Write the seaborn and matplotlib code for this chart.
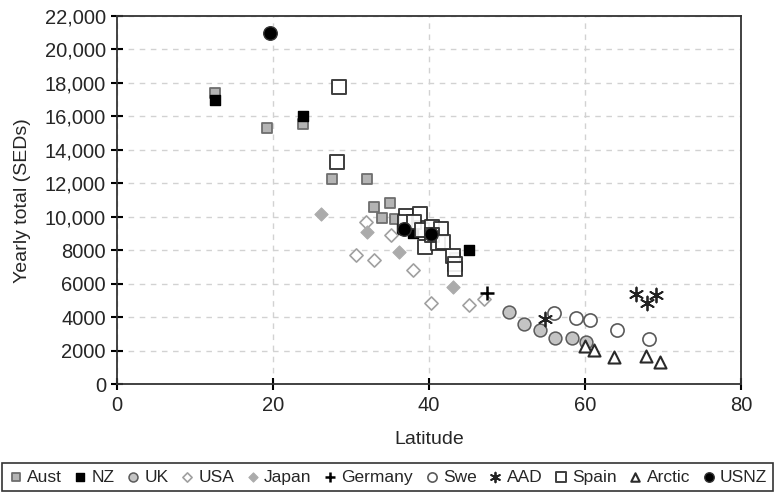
import matplotlib
matplotlib.use("Agg")
import matplotlib.pyplot as plt
import seaborn as sns
from matplotlib.ticker import FuncFormatter

# ---- data (latitude, yearly total SEDs) ----
aust_lat = [12.6, 19.2, 23.8, 27.6, 32.0, 33.0, 35.0, 34.0, 35.6, 43.3]
aust_val = [17400, 15330, 15530, 12270, 12250, 10580, 10820, 9960, 9860, 7530]
nz_lat = [12.6, 23.8, 36.6, 37.9, 40.0, 45.1]
nz_val = [17000, 16000, 9300, 9050, 9100, 8050]
uk_lat = [50.2, 52.2, 54.2, 56.2, 58.3, 60.1]
uk_val = [4350, 3610, 3250, 2760, 2760, 2530]
usa_lat = [31.9, 35.1, 30.6, 33.0, 37.9, 40.2, 45.1, 47.0]
usa_val = [9680, 8930, 7700, 7430, 6820, 4880, 4750, 5070]
japan_lat = [26.1, 32.1, 36.2, 43.1]
japan_val = [10200, 9100, 7880, 5840]
germany_lat = [47.5]
germany_val = [5460]
swe_lat = [56.0, 58.8, 60.7, 64.1, 68.2]
swe_val = [4250, 3950, 3820, 3250, 2720]
aad_lat = [54.9, 66.6, 67.9, 69.1]
aad_val = [3890, 5400, 4880, 5340]
spain_lat = [28.4, 28.2, 37.1, 38.9, 36.9, 38.1, 39.1, 40.4, 41.6, 39.5,
             41.2, 40.4, 43.1, 43.3, 43.3, 41.8]
spain_val = [17780, 13300, 10050, 10150, 9700, 9680, 9200, 9400, 9280, 8230,
             8420, 8930, 7650, 7170, 6900, 8530]
arctic_lat = [60.0, 61.1, 63.7, 67.8, 69.6]
arctic_val = [2300, 2060, 1620, 1700, 1360]
usnz_lat = [19.6, 36.8, 40.2]
usnz_val = [21000, 9300, 8950]

x_ticks = [0, 20, 40, 60, 80]
y_ticks = list(range(0, 22001, 2000))

sns.set_theme(style="white")
plt.rcParams["font.family"] = ["Liberation Sans", "DejaVu Sans"]

fig = plt.figure(figsize=(7.75, 4.96), dpi=100)
ax = fig.add_axes([0.151, 0.225, 0.805, 0.743])

groups = [
    ("Aust", aust_lat, aust_val, dict(marker="s", s=62, color="#b4b4b4", edgecolor="#6e6e6e", linewidth=1.3)),
    ("NZ", nz_lat, nz_val, dict(marker="s", s=62, color="black", edgecolor="black", linewidth=1.0)),
    ("UK", uk_lat, uk_val, dict(marker="o", s=85, color="#c4c4c4", edgecolor="#5a5a5a", linewidth=1.1)),
    ("USA", usa_lat, usa_val, dict(marker="D", s=45, color="white", edgecolor="#a0a0a0", linewidth=1.2)),
    ("Japan", japan_lat, japan_val, dict(marker="D", s=45, color="#ababab", edgecolor="#ababab", linewidth=0.8)),
    ("Germany", germany_lat, germany_val, None),
    ("Swe", swe_lat, swe_val, dict(marker="o", s=90, color="white", edgecolor="#5a5a5a", linewidth=1.2)),
    ("AAD", aad_lat, aad_val, dict(marker=(6, 2, 0), s=100, color="#222222", linewidth=1.3)),
    ("Spain", spain_lat, spain_val, dict(marker="s", s=95, color="white", edgecolor="#2a2a2a", linewidth=1.4, alpha=0.9)),
    ("Arctic", arctic_lat, arctic_val, dict(marker="^", s=75, color="white", edgecolor="#2a2a2a", linewidth=1.5)),
    ("USNZ", usnz_lat, usnz_val, dict(marker="o", s=95, color="black", edgecolor="#333333", linewidth=1.0)),
]

for name, xs, ys, kw in groups:
    if kw is None:
        sns.scatterplot(x=xs, y=ys, ax=ax, marker="+", s=100, color="black",
                        linewidth=1.8, label=name, zorder=3)
    else:
        sns.scatterplot(x=xs, y=ys, ax=ax, label=name, zorder=3, **kw)

ax.set_xlim(0, 80)
ax.set_ylim(0, 22000)
ax.set_xticks(x_ticks)
ax.set_yticks(y_ticks)
ax.yaxis.set_major_formatter(FuncFormatter(lambda v, p: f"{int(v):,}" if v >= 10000 else f"{int(v)}"))

ax.grid(True, linestyle=(0, (4, 4)), color="#d2d2d2", linewidth=1.0)
ax.set_axisbelow(True)
for sp in ax.spines.values():
    sp.set_visible(True)
    sp.set_color("#333333")
    sp.set_linewidth(1.3)
ax.tick_params(axis="both", direction="inout", length=8, width=1.5, color="black",
               labelsize=14.5, pad=4, left=True, bottom=True)
ax.set_xlabel("Latitude", fontsize=14, labelpad=12)
ax.set_ylabel("Yearly total (SEDs)", fontsize=14, labelpad=10)

handles, labels = ax.get_legend_handles_labels()
ax.get_legend().remove()
leg = fig.legend(handles, labels, loc="center", bbox_to_anchor=(0.5, 0.038),
                 ncol=11, fontsize=12.5, frameon=True, fancybox=False,
                 edgecolor="black", handletextpad=0.2, columnspacing=0.62,
                 borderpad=0.35, handlelength=0.9, markerscale=0.7,
                 borderaxespad=0.2)
leg.get_frame().set_linewidth(1.2)

fig.savefig("out.png", dpi=100)
